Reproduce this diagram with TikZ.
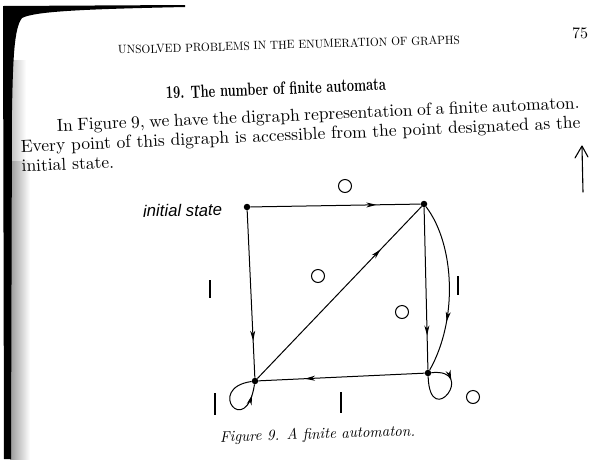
\documentclass[tikz,border=0pt]{standalone}
\usepackage{fontspec}
\newfontfamily\labelfont{Liberation Sans}
\usetikzlibrary{arrows.meta,decorations.markings}
\newlength\lineW
\begin{document}
\settowidth{\lineW}{Every point of this digraph is accessible from the point designated as the}
\begin{tikzpicture}[x=1pt,y=-1pt,
  dot/.style={circle,fill=black,inner sep=0pt,minimum size=6.5pt},
  edge/.style={line width=1pt},
  midarrow/.style={postaction={decorate,decoration={markings,mark=at position #1 with {\arrow{Stealth[length=10pt,width=5pt,inset=3pt]}}}}},
  ring/.style={line width=1pt},
  bar/.style={line width=1.2pt},
  txt/.style={inner sep=0pt,anchor=base west}]
\useasboundingbox (0,0) rectangle (595,459);
\fill[white] (0,0) rectangle (595,459);
% scanned page edge
\shade[left color=black!40,right color=white] (10,160) rectangle (30,459);
\shade[left color=black!25,right color=white] (10,60) rectangle (26,160);
\fill[black] (3,6) -- (185,5) -- (185,7) .. controls (90,9) and (35,11) .. (22,18) .. controls (14,28) and (13,60) .. (12,110) -- (11,459) -- (4,459) -- cycle;
% texts
\node[txt,rotate=1.7] (hdr) at (118,54) {\resizebox{342pt}{8.5pt}{UNSOLVED PROBLEMS IN THE ENUMERATION OF GRAPHS}};
\node[txt] (pg) at (572,38) {\resizebox{16pt}{!}{75}};
\node[txt,rotate=2.3] (ttl) at (166,99) {\resizebox{220pt}{12.5pt}{\bfseries 19. The number of finite automata}};
\node[txt,rotate=2.5] (body) at (20,133) {\resizebox{560pt}{!}{\renewcommand\arraystretch{0.93}\begin{tabular}[t]{@{}l@{}}\makebox[\lineW][s]{\hspace*{0.066\lineW}In Figure 9, we have the digraph representation of a finite automaton.}\\ Every point of this digraph is accessible from the point designated as the\\ initial state.\end{tabular}}};
\node[txt,rotate=1.8] (cap) at (220,442) {\resizebox{195pt}{11pt}{\itshape Figure 9. A finite automaton.}};
\node[txt,rotate=1] (lab) at (143,217) {\resizebox{79pt}{!}{\labelfont\itshape initial state}};
% digraph
\node[dot] (A) at (247,207) {};
\node[dot] (B) at (424,204) {};
\node[dot] (C) at (255,381) {};
\node[dot] (D) at (428,373) {};
\draw[edge,midarrow=0.74] (A) -- (B);
\draw[edge,midarrow=0.78] (A) -- (C);
\draw[edge,midarrow=0.75] (C) -- (B);
\draw[edge,midarrow=0.79] (B) -- (D);
\draw[edge,midarrow=0.7] (B) .. controls (455,245) and (458,320) .. (D);
\draw[edge,midarrow=0.72] (D) -- (C);
\draw[edge,midarrow=0.86] (C) .. controls (205,388) and (246,440) .. (C);
\draw[edge,midarrow=0.3] (D) .. controls (478,368) and (430,432) .. (D);
% circles and bars
\draw[ring] (345,186) circle[radius=6.5];
\draw[ring] (318,276) circle[radius=6.5];
\draw[ring] (402,312) circle[radius=6.5];
\draw[ring] (473,397) circle[radius=6.5];
\draw[bar] (210,280) -- (210,298);
\draw[bar] (458,276) -- (458,295);
\draw[bar] (215,393) -- (215,415);
\draw[bar] (341,392) -- (341,413);
% handwritten arrow
\draw[line width=1.1pt,line cap=round,line join=round] (583,192) -- (582,147);
\draw[line width=1.1pt,line cap=round,line join=round] (575,158) -- (582,146) -- (588,157);
\end{tikzpicture}
\end{document}
